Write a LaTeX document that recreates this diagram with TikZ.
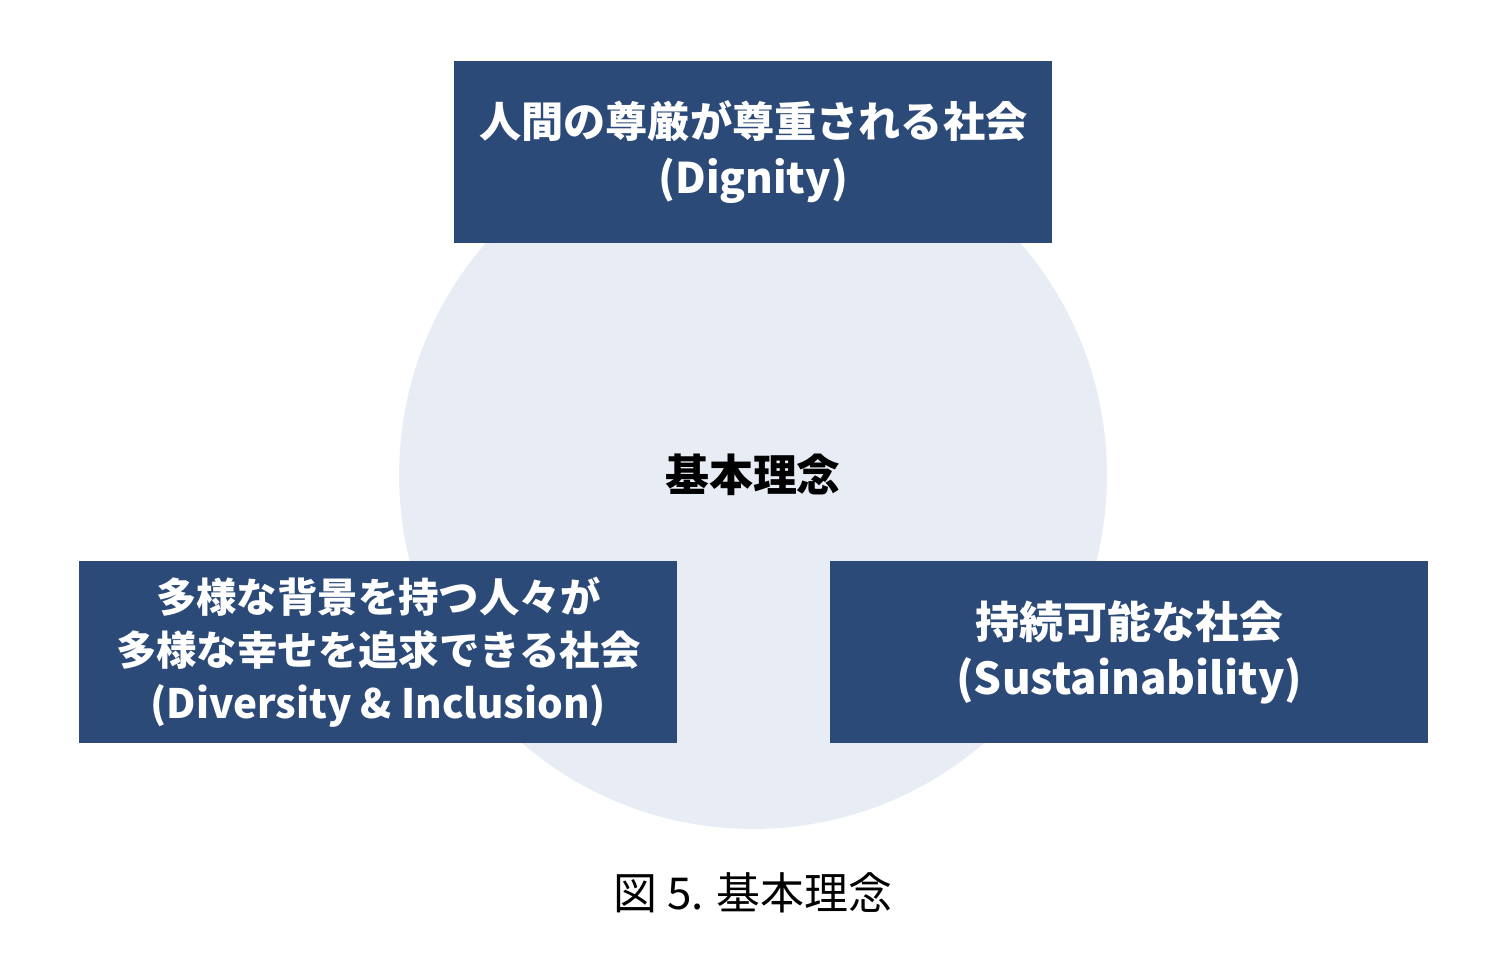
\documentclass[tikz,border=0pt]{standalone}
\usepackage{fontspec}
\setmainfont{Noto Sans CJK JP}
\usetikzlibrary{positioning}
\definecolor{boxblue}{HTML}{2C4A78}
\definecolor{circfill}{HTML}{E8ECF5}
\tikzset{
  ideabox/.style={fill=boxblue, text=white, align=center,
    minimum width=11.96cm, minimum height=3.64cm, inner sep=0pt, anchor=north west},
}
\begin{document}
\begin{tikzpicture}[x=0.02cm,y=-0.02cm]
        \useasboundingbox (0,0) rectangle (1508,962);
        \fill[circfill] (753,475) circle (7.08cm);

        \node[ideabox, font=\bfseries\fontsize{24}{32}\selectfont] (dignity) at (454,61) {人間の尊厳が尊重される社会\\(Dignity)};
        \node[ideabox, font=\bfseries\fontsize{23}{30}\selectfont] (diversity) at (79,561) {多様な背景を持つ人々が\\多様な幸せを追求できる社会\\(Diversity \& Inclusion)};
        \node[ideabox, font=\bfseries\fontsize{25}{32}\selectfont] (sustain) at (830,561) {持続可能な社会\\(Sustainability)};

        \node[font=\bfseries\fontsize{25}{28}\selectfont] (core) at (753,475) {基本理念};
        \node[font=\fontsize{25}{28}\selectfont] (caption) at (753,893) {図 5. 基本理念};
\end{tikzpicture}
\end{document}
